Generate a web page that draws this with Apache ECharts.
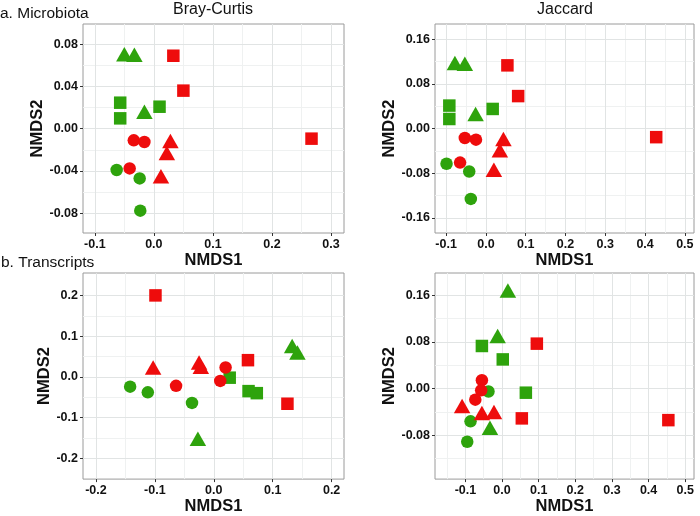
<!DOCTYPE html>
<html>
<head>
<meta charset="utf-8">
<script src="https://cdn.jsdelivr.net/npm/echarts@6/dist/echarts.min.js"></script>
<style>
html,body{margin:0;padding:0;background:#fff;}
#chart{width:700px;height:516px;}
</style>
</head>
<body>
<div id="chart"></div>
<script>
// ---------- Data ----------
// Panel a1: Microbiota, Bray-Curtis  ([NMDS1, NMDS2])
const a1GreenCircle   = [[-0.063,-0.039],[-0.024,-0.047],[-0.023,-0.0775]];
const a1GreenSquare   = [[-0.057,0.0246],[-0.057,0.0098],[0.0096,0.0208]];
const a1GreenTriangle = [[-0.050,0.0705],[-0.033,0.0700],[-0.016,0.016]];
const a1RedCircle     = [[-0.034,-0.011],[-0.016,-0.0126],[-0.041,-0.0375]];
const a1RedSquare     = [[0.033,0.069],[0.050,0.036],[0.267,-0.0094]];
const a1RedTriangle   = [[0.028,-0.0115],[0.022,-0.023],[0.012,-0.045]];
// Panel a2: Microbiota, Jaccard
const a2GreenCircle   = [[-0.099,-0.063],[-0.042,-0.077],[-0.038,-0.126]];
const a2GreenSquare   = [[-0.092,0.041],[-0.092,0.017],[0.017,0.035]];
const a2GreenTriangle = [[-0.078,0.117],[-0.053,0.116],[-0.026,0.026]];
const a2RedCircle     = [[-0.053,-0.017],[-0.025,-0.020],[-0.065,-0.061]];
const a2RedSquare     = [[0.054,0.113],[0.081,0.058],[0.428,-0.0155]];
const a2RedTriangle   = [[0.044,-0.019],[0.035,-0.039],[0.020,-0.074]];
// Panel b1: Transcripts, Bray-Curtis
const b1GreenCircle   = [[-0.142,-0.024],[-0.112,-0.038],[-0.037,-0.064]];
const b1GreenSquare   = [[0.027,-0.002],[0.059,-0.035],[0.073,-0.040]];
const b1GreenTriangle = [[0.133,0.076],[0.142,0.060],[-0.027,-0.152]];
const b1RedCircle     = [[-0.064,-0.022],[0.020,0.023],[0.011,-0.010]];
const b1RedSquare     = [[-0.099,0.200],[0.058,0.041],[0.125,-0.066]];
const b1RedTriangle   = [[-0.103,0.023],[-0.025,0.035],[-0.022,0.025]];
// Panel b2: Transcripts, Jaccard
const b2GreenCircle   = [[-0.037,-0.005],[-0.086,-0.056],[-0.095,-0.091]];
const b2GreenSquare   = [[-0.055,0.073],[0.002,0.050],[0.065,-0.007]];
const b2GreenTriangle = [[0.016,0.168],[-0.012,0.090],[-0.033,-0.067]];
const b2RedCircle     = [[-0.055,0.0145],[-0.057,-0.003],[-0.073,-0.019]];
const b2RedSquare     = [[0.095,0.077],[0.054,-0.051],[0.454,-0.054]];
const b2RedTriangle   = [[-0.109,-0.030],[-0.055,-0.042],[-0.022,-0.040]];

// Axis ticks
const a1XTicks = [-0.1,0.0,0.1,0.2,0.3];
const a1XMinor = [-0.05,0.05,0.15,0.25];
const a1YTicks = [-0.08,-0.04,0.0,0.04,0.08];
const a1YMinor = [-0.06,-0.02,0.02,0.06];
const a2XTicks = [-0.1,0.0,0.1,0.2,0.3,0.4,0.5];
const a2XMinor = [-0.05,0.05,0.15,0.25,0.35,0.45];
const a2YTicks = [-0.16,-0.08,0.0,0.08,0.16];
const a2YMinor = [-0.12,-0.04,0.04,0.12];
const b1XTicks = [-0.2,-0.1,0.0,0.1,0.2];
const b1XMinor = [-0.15,-0.05,0.05,0.15];
const b1YTicks = [-0.2,-0.1,0.0,0.1,0.2];
const b1YMinor = [-0.15,-0.05,0.05,0.15];
const b2XTicks = [-0.1,0.0,0.1,0.2,0.3,0.4,0.5];
const b2XMinor = [-0.15,-0.05,0.05,0.15,0.25,0.35,0.45];
const b2YTicks = [-0.08,0.0,0.08,0.16];
const b2YMinor = [-0.12,-0.04,0.04,0.12];

const panelTitles = ['Bray-Curtis','Jaccard'];
const rowLabels = ['a. Microbiota','b. Transcripts'];

// ---------- Styling ----------
const RED = '#EE0C0C';
const GREEN = '#2EA30C';
const FONT = '"Liberation Sans", Arial, sans-serif';

const panels = [
  {grid:{left:83, top:24, width:261, height:209},
   x:{min:-0.12, max:0.322, ticks:a1XTicks, minor:a1XMinor, dec:1},
   y:{min:-0.0986, max:0.099, ticks:a1YTicks, minor:a1YMinor, dec:2, gap:36},
   data:[a1GreenCircle,a1GreenSquare,a1GreenTriangle,a1RedCircle,a1RedSquare,a1RedTriangle]},
  {grid:{left:435, top:24, width:259, height:209},
   x:{min:-0.128, max:0.523, ticks:a2XTicks, minor:a2XMinor, dec:1},
   y:{min:-0.187, max:0.187, ticks:a2YTicks, minor:a2YMinor, dec:2, gap:36},
   data:[a2GreenCircle,a2GreenSquare,a2GreenTriangle,a2RedCircle,a2RedSquare,a2RedTriangle]},
  {grid:{left:83, top:273, width:261, height:210},
   x:{min:-0.222, max:0.221, ticks:b1XTicks, minor:b1XMinor, dec:1},
   y:{min:-0.251, max:0.255, ticks:b1YTicks, minor:b1YMinor, dec:1, gap:28},
   data:[b1GreenCircle,b1GreenSquare,b1GreenTriangle,b1RedCircle,b1RedSquare,b1RedTriangle]},
  {grid:{left:435, top:273, width:259, height:210},
   x:{min:-0.183, max:0.524, ticks:b2XTicks, minor:b2XMinor, dec:1},
   y:{min:-0.155, max:0.198, ticks:b2YTicks, minor:b2YMinor, dec:2, gap:36},
   data:[b2GreenCircle,b2GreenSquare,b2GreenTriangle,b2RedCircle,b2RedSquare,b2RedTriangle]}
];

const groupStyles = [
  {color:GREEN, symbol:'circle', size:12.5},
  {color:GREEN, symbol:'rect', size:12.5},
  {color:GREEN, symbol:'triangle', size:[16.5,14.5]},
  {color:RED, symbol:'circle', size:12.5},
  {color:RED, symbol:'rect', size:12.5},
  {color:RED, symbol:'triangle', size:[16.5,14.5]}
];

const grids = [], xAxes = [], yAxes = [], series = [];

function fmt(dec){ return v => { const s = Number(v).toFixed(dec); return (s === '-0.0' || s === '-0.00') ? s.slice(1) : s; }; }

panels.forEach((p, i) => {
  grids.push(Object.assign({show:true, borderColor:'#9a9a9a', borderWidth:1, backgroundColor:'#fff', containLabel:false}, p.grid));
  // minor axes (lines only)
  xAxes.push({type:'value', gridIndex:i, min:p.x.min, max:p.x.max, position:'bottom', z:0,
    axisLine:{show:false, onZero:false}, axisLabel:{show:false, customValues:p.x.minor},
    axisTick:{show:false, customValues:p.x.minor},
    splitLine:{show:true, lineStyle:{color:'#EFF1F1', width:1}}});
  yAxes.push({type:'value', gridIndex:i, min:p.y.min, max:p.y.max, position:'left', z:0,
    axisLine:{show:false, onZero:false}, axisLabel:{show:false, customValues:p.y.minor},
    axisTick:{show:false, customValues:p.y.minor},
    splitLine:{show:true, lineStyle:{color:'#EFF1F1', width:1}}});
  // major axes
  xAxes.push({type:'value', gridIndex:i, min:p.x.min, max:p.x.max, position:'bottom', z:1,
    name:'NMDS1', nameLocation:'middle', nameGap:17,
    nameTextStyle:{fontFamily:FONT, fontWeight:'bold', fontSize:16.5, color:'#111', verticalAlign:'top'},
    axisLine:{show:false, onZero:false},
    axisTick:{show:true, customValues:p.x.ticks, length:3, lineStyle:{color:'#333'}},
    axisLabel:{customValues:p.x.ticks, formatter:fmt(p.x.dec), margin:5, fontFamily:FONT, fontWeight:'bold', fontSize:12.5, color:'#111'},
    splitLine:{show:true, lineStyle:{color:'#E1E4E4', width:1}}});
  yAxes.push({type:'value', gridIndex:i, min:p.y.min, max:p.y.max, position:'left', z:1,
    name:'NMDS2', nameLocation:'middle', nameGap:p.y.gap, nameRotate:90,
    nameTextStyle:{fontFamily:FONT, fontWeight:'bold', fontSize:16.5, color:'#111'},
    axisLine:{show:false, onZero:false},
    axisTick:{show:true, customValues:p.y.ticks, length:3, lineStyle:{color:'#333'}},
    axisLabel:{customValues:p.y.ticks, formatter:fmt(p.y.dec), margin:5, fontFamily:FONT, fontWeight:'bold', fontSize:12.5, color:'#111'},
    splitLine:{show:true, lineStyle:{color:'#E1E4E4', width:1}}});
  p.data.forEach((d, g) => {
    const st = groupStyles[g];
    series.push({type:'scatter', xAxisIndex:2*i+1, yAxisIndex:2*i+1, data:d,
      symbol:st.symbol, symbolSize:st.size, itemStyle:{color:st.color, opacity:1},
      emphasis:{disabled:true}, silent:true, z:2});
  });
});

const graphics = [
  {type:'text', x:213, y:10, style:{text:panelTitles[0], font:'16px '+FONT, fill:'#111', textAlign:'center', textVerticalAlign:'middle'}},
  {type:'text', x:565, y:10, style:{text:panelTitles[1], font:'16px '+FONT, fill:'#111', textAlign:'center', textVerticalAlign:'middle'}},
  {type:'text', x:0, y:14, style:{text:rowLabels[0], font:'15.5px '+FONT, fill:'#111', textAlign:'left', textVerticalAlign:'middle'}},
  {type:'text', x:1, y:263, style:{text:rowLabels[1], font:'15.5px '+FONT, fill:'#111', textAlign:'left', textVerticalAlign:'middle'}}
];

const chart = echarts.init(document.getElementById('chart'), null, {renderer:'canvas'});
chart.setOption({
  animation:false,
  backgroundColor:'#fff',
  grid:grids, xAxis:xAxes, yAxis:yAxes, series:series, graphic:graphics
});
</script>
</body>
</html>
